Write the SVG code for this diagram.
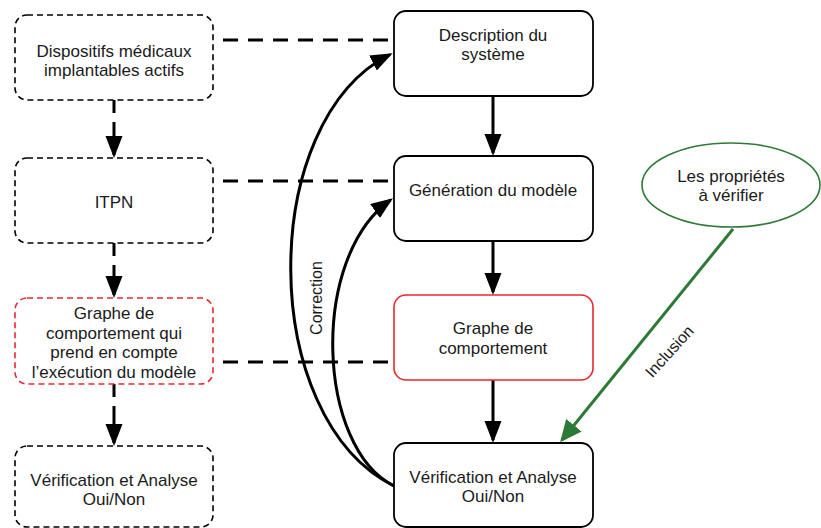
<svg xmlns="http://www.w3.org/2000/svg" width="821" height="528" viewBox="0 0 821 528">
<defs>
<style>
text{font-family:"Liberation Sans",Arial,sans-serif;font-size:17px;fill:#1a1a1a;text-anchor:middle}
.lbox{fill:#fff;stroke:#000;stroke-width:1.6;stroke-dasharray:6 4}
.lred{fill:#fff;stroke:#e8282e;stroke-width:1.6;stroke-dasharray:6 4}
.rbox{fill:#fff;stroke:#000;stroke-width:1.8}
.rred{fill:#fff;stroke:#e8282e;stroke-width:1.6}
.hd{fill:none;stroke:#000;stroke-width:3;stroke-dasharray:15 10}
.vd{fill:none;stroke:#000;stroke-width:3;stroke-dasharray:13 9 40}
.sol{fill:none;stroke:#000;stroke-width:3}
.grn{fill:none;stroke:#2d7a36;stroke-width:3}
</style>
<marker id="ah" markerUnits="userSpaceOnUse" markerWidth="24" markerHeight="18" refX="19" refY="8.5" orient="auto">
<path d="M0,0 L22,8.5 L0,17 z" fill="#000"/>
</marker>
<marker id="ahg" markerUnits="userSpaceOnUse" markerWidth="24" markerHeight="20" refX="19" refY="10" orient="auto">
<path d="M0,0 L22,10 L0,20 z" fill="#2d7a36"/>
</marker>
</defs>
<rect width="821" height="528" fill="#fff"/>

<g id="connectors">
<line class="hd" x1="223" y1="40" x2="394" y2="40"/>
<line class="hd" x1="223" y1="181" x2="394" y2="181"/>
<line class="hd" x1="223" y1="362" x2="394" y2="362"/>
<line class="vd" x1="114" y1="100" x2="114" y2="155" marker-end="url(#ah)"/>
<line class="vd" x1="114" y1="243" x2="114" y2="295" marker-end="url(#ah)"/>
<line class="vd" x1="114" y1="384" x2="114" y2="443" marker-end="url(#ah)"/>
<line class="sol" x1="493" y1="96" x2="493" y2="153" marker-end="url(#ah)"/>
<line class="sol" x1="493" y1="241" x2="493" y2="292" marker-end="url(#ah)"/>
<line class="sol" x1="493" y1="380" x2="493" y2="440" marker-end="url(#ah)"/>
<path class="sol" d="M394,486 C257,418 257,121 390,54.5" marker-end="url(#ah)"/>
<path class="sol" d="M394,486 C317,448 309,258 390.5,200" marker-end="url(#ah)"/>
<line class="grn" x1="733" y1="229" x2="562" y2="440" marker-end="url(#ahg)"/>
<text transform="translate(322,298) rotate(-90)" font-size="16" style="font-size:16px">Correction</text>
<text transform="translate(673.5,355) rotate(-48)" style="font-size:16px">Inclusion</text>
</g>

<g id="n_dmia">
<rect class="lbox" x="15" y="15" width="198" height="85" rx="12"/>
<text x="114" y="57">Dispositifs médicaux</text>
<text x="114" y="76">implantables actifs</text>
</g>
<g id="n_itpn">
<rect class="lbox" x="15" y="158" width="198" height="85" rx="12"/>
<text x="114" y="208">ITPN</text>
</g>
<g id="n_graphe_left">
<rect class="lred" x="15" y="298" width="198" height="86" rx="12"/>
<text x="114" y="319">Graphe de</text>
<text x="114" y="338.5">comportement qui</text>
<text x="114" y="358">prend en compte</text>
<text x="114" y="377.5">l’exécution du modèle</text>
</g>
<g id="n_verif_left">
<rect class="lbox" x="15" y="446" width="198" height="81" rx="12"/>
<text x="114" y="486">Vérification et Analyse</text>
<text x="114" y="505">Oui/Non</text>
</g>

<g id="n_desc">
<rect class="rbox" x="394" y="11" width="199" height="85" rx="12"/>
<text x="493" y="41">Description du</text>
<text x="493" y="60">système</text>
</g>
<g id="n_gen">
<rect class="rbox" x="394" y="156" width="199" height="85" rx="12"/>
<text x="493" y="196">Génération du modèle</text>
</g>
<g id="n_graphe">
<rect class="rred" x="394" y="295" width="199" height="85" rx="12"/>
<text x="493" y="334">Graphe de</text>
<text x="493" y="354">comportement</text>
</g>
<g id="n_verif">
<rect class="rbox" x="394" y="443" width="199" height="84" rx="12"/>
<text x="493" y="483">Vérification et Analyse</text>
<text x="493" y="502">Oui/Non</text>
</g>
<g id="n_props">
<ellipse cx="731" cy="185" rx="89" ry="42" fill="#fff" stroke="#2d7a36" stroke-width="1.6"/>
<text x="731" y="182">Les propriétés</text>
<text x="731" y="201">à vérifier</text>
</g>
</svg>
